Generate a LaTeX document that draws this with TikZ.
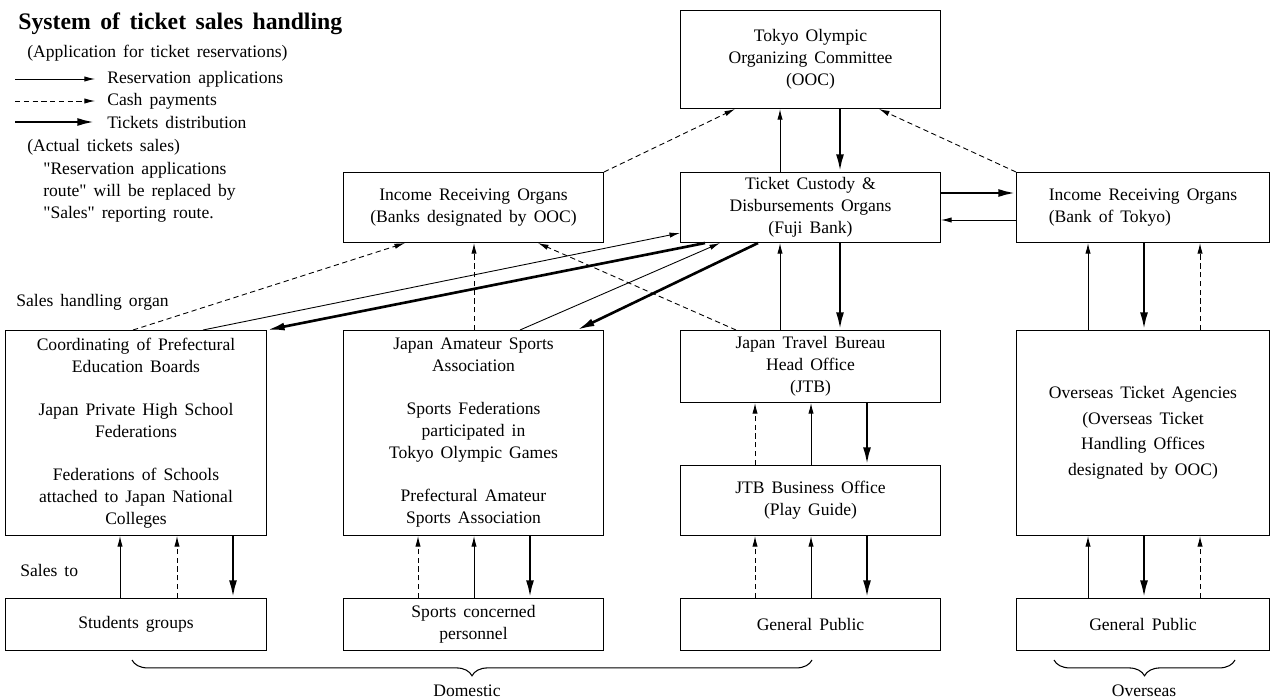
\documentclass[tikz,border=0pt]{standalone}
\usepackage{fontspec}
\setmainfont{Liberation Serif}
\usetikzlibrary{arrows.meta,calc,decorations.pathreplacing}

\newcommand{\chartfont}{\fontsize{10}{12.5}\selectfont\spaceskip=0.4em plus 0.1em minus 0.05em\relax}
\newcommand{\headfont}{\fontsize{13.5}{16}\selectfont\bfseries\spaceskip=0.4em plus 0.1em\relax}

\tikzset{
  box/.style={draw, line width=0.6pt, anchor=north west, inner sep=0pt, align=center, font=\chartfont},
  txt/.style={anchor=west, inner sep=0pt, align=left, font=\chartfont},
  resv/.style={-{Latex[length=6pt,width=3pt]}, line width=0.5pt},
  cash/.style={resv, dash pattern=on 3pt off 2pt},
  tix/.style={-{Latex[length=10pt,width=4.5pt]}, line width=1.5pt},
  curly/.style={decorate, decoration={brace, mirror, amplitude=9pt}, line width=0.6pt},
}

\begin{document}
\begin{tikzpicture}[x=0.02cm, y=-0.02cm]
  \useasboundingbox (0,0) rectangle (1273,699);
  % legend
  \node[txt, font=\headfont] (title) at (18,24) {System of ticket sales handling};
  \node[txt] (appl) at (27,53) {(Application for ticket reservations)};
  \node[txt] (lresv) at (107,79) {Reservation applications};
  \node[txt] (lcash) at (107,101) {Cash payments};
  \node[txt] (ltix) at (107,122) {Tickets distribution};
  \draw[resv] ($(lresv.west)+(-92,0)$) -- ($(lresv.west)+(-12,0)$);
  \draw[cash] ($(lcash.west)+(-92,0)$) -- ($(lcash.west)+(-12,0)$);
  \draw[tix] ($(ltix.west)+(-92,0)$) -- ($(ltix.west)+(-12,0)$);
  \node[txt] (actual) at (27,147) {(Actual tickets sales)};
  \node[txt] (note) at (43,192) {\textquotedbl Reservation applications\\route\textquotedbl{} will be replaced by\\\textquotedbl Sales\textquotedbl{} reporting route.};
  \node[txt] (organ) at (16,302) {Sales handling organ};
  \node[txt] (salesto) at (20,570) {Sales to};

  % boxes
  \node[box, minimum width=5.2cm, minimum height=1.96cm] (ooc) at (680,10)
    {Tokyo Olympic\\Organizing Committee\\(OOC)};
  \node[box, minimum width=5.2cm, minimum height=1.4cm] (banks) at (343,172)
    {Income Receiving Organs\\(Banks designated by OOC)};
  \node[box, minimum width=5.2cm, minimum height=1.4cm] (fuji) at (680,172)
    {Ticket Custody \&\\Disbursements Organs\\(Fuji Bank)};
  \node[box, minimum width=5.06cm, minimum height=1.4cm] (tokyobank) at (1016,172)
    {\begin{tabular}{@{}l@{}}Income Receiving Organs\\(Bank of Tokyo)\end{tabular}};
  \node[box, minimum width=5.22cm, minimum height=4.1cm] (edu) at (5,330)
    {Coordinating of Prefectural\\Education Boards\\[12pt]Japan Private High School\\Federations\\[12pt]Federations of Schools\\attached to Japan National\\Colleges};
  \node[box, minimum width=5.2cm, minimum height=4.1cm] (jasa) at (343,330)
    {Japan Amateur Sports\\Association\\[12pt]Sports Federations\\participated in\\Tokyo Olympic Games\\[12pt]Prefectural Amateur\\Sports Association};
  \node[box, minimum width=5.2cm, minimum height=1.44cm] (jtb) at (680,330)
    {Japan Travel Bureau\\Head Office\\(JTB)};
  \node[box, minimum width=5.2cm, minimum height=1.4cm] (jtbbiz) at (680,465)
    {JTB Business Office\\(Play Guide)};
  \node[box, minimum width=5.06cm, minimum height=4.1cm] (overseas) at (1016,330)
    {Overseas Ticket Agencies\\[2pt](Overseas Ticket\\[2pt]Handling Offices\\[2pt]designated by OOC)};
  \node[box, minimum width=5.22cm, minimum height=1.04cm] (students) at (5,598) {Students groups};
  \node[box, minimum width=5.2cm, minimum height=1.04cm] (sportsp) at (343,598) {Sports concerned\\personnel};
  \node[box, minimum width=5.2cm, minimum height=1.04cm] (publicjp) at (680,598) {General Public};
  \node[box, minimum width=5.06cm, minimum height=1.04cm] (publicos) at (1016,598) {General Public};

  % top part
  \draw[resv] ($(fuji.north west)+(100,0)$) -- ($(ooc.south west)+(100,0)$);
  \draw[tix] ($(ooc.south west)+(160,0)$) -- ($(fuji.north west)+(160,0)$);
  \draw[cash] (banks.north east) -- ($(ooc.south west)+(55,0)$);
  \draw[cash] (tokyobank.north west) -- ($(ooc.south west)+(199,0)$);
  \draw[tix] ($(fuji.north east)+(0,21)$) -- ($(tokyobank.north west)+(0,21)$);
  \draw[resv] ($(tokyobank.north west)+(0,48)$) -- ($(fuji.north east)+(0,48)$);

  % sales handling organs
  \draw[cash] ($(edu.north west)+(128,0)$) -- ($(banks.south west)+(62,0)$);
  \draw[resv] ($(edu.north west)+(198,0)$) -- ($(fuji.north west)+(0,61)$);
  \draw[tix] ($(fuji.south west)+(25,0)$) -- (edu.north east);
  \draw[cash] ($(jasa.north west)+(131,0)$) -- ($(banks.south west)+(131,0)$);
  \draw[resv] ($(jasa.north west)+(177,0)$) -- ($(fuji.south west)+(40,0)$);
  \draw[tix] ($(fuji.south west)+(78,0)$) -- ($(jasa.north west)+(234,0)$);
  \draw[cash] ($(jtb.north west)+(56,0)$) -- ($(banks.south west)+(195,0)$);
  \draw[resv] ($(jtb.north west)+(100,0)$) -- ($(fuji.south west)+(100,0)$);
  \draw[tix] ($(fuji.south west)+(160,0)$) -- ($(jtb.north west)+(160,0)$);
  \draw[resv] ($(overseas.north west)+(72,0)$) -- ($(tokyobank.south west)+(72,0)$);
  \draw[tix] ($(tokyobank.south west)+(128,0)$) -- ($(overseas.north west)+(128,0)$);
  \draw[cash] ($(overseas.north west)+(184,0)$) -- ($(tokyobank.south west)+(184,0)$);

  % JTB offices
  \draw[cash] ($(jtbbiz.north west)+(75,0)$) -- ($(jtb.south west)+(75,0)$);
  \draw[resv] ($(jtbbiz.north west)+(131,0)$) -- ($(jtb.south west)+(131,0)$);
  \draw[tix] ($(jtb.south west)+(187,0)$) -- ($(jtbbiz.north west)+(187,0)$);

  % sales to
  \draw[resv] ($(students.north west)+(115,0)$) -- ($(edu.south west)+(115,0)$);
  \draw[cash] ($(students.north west)+(172,0)$) -- ($(edu.south west)+(172,0)$);
  \draw[tix] ($(edu.south west)+(228,0)$) -- ($(students.north west)+(228,0)$);
  \draw[cash] ($(sportsp.north west)+(75,0)$) -- ($(jasa.south west)+(75,0)$);
  \draw[resv] ($(sportsp.north west)+(131,0)$) -- ($(jasa.south west)+(131,0)$);
  \draw[tix] ($(jasa.south west)+(187,0)$) -- ($(sportsp.north west)+(187,0)$);
  \draw[cash] ($(publicjp.north west)+(75,0)$) -- ($(jtbbiz.south west)+(75,0)$);
  \draw[resv] ($(publicjp.north west)+(131,0)$) -- ($(jtbbiz.south west)+(131,0)$);
  \draw[tix] ($(jtbbiz.south west)+(187,0)$) -- ($(publicjp.north west)+(187,0)$);
  \draw[resv] ($(publicos.north west)+(72,0)$) -- ($(overseas.south west)+(72,0)$);
  \draw[tix] ($(overseas.south west)+(128,0)$) -- ($(publicos.north west)+(128,0)$);
  \draw[cash] ($(publicos.north west)+(184,0)$) -- ($(overseas.south west)+(184,0)$);

  % braces
  \coordinate (domL) at (132,660);
  \coordinate (domR) at (812,660);
  \coordinate (ovsL) at (1054,660);
  \coordinate (ovsR) at (1235,660);
  \draw[curly] (domL) -- (domR);
  \draw[curly] (ovsL) -- (ovsR);
  \node[font=\chartfont, inner sep=0pt] (domestic) at (467,691) {Domestic};
  \node[font=\chartfont, inner sep=0pt] (abroad) at (1144,691) {Overseas};
\end{tikzpicture}
\end{document}
